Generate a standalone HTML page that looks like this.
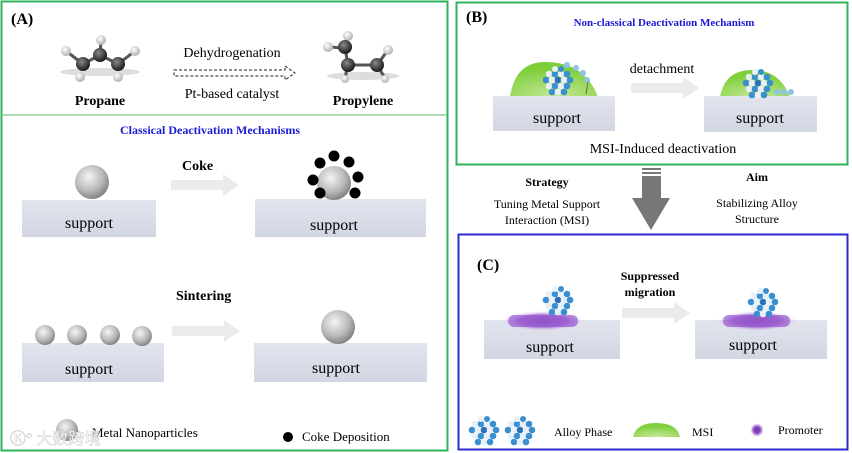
<!DOCTYPE html>
<html><head><meta charset="utf-8"><style>
html,body{margin:0;padding:0;background:#fff}
svg{display:block}
text{font-family:"Liberation Serif",serif}
</style></head><body>
<svg width="852" height="453" viewBox="0 0 852 453" xmlns="http://www.w3.org/2000/svg">
<defs>
<radialGradient id="sph" cx="0.4" cy="0.35" r="0.7">
<stop offset="0" stop-color="#f4f4f4"/><stop offset="0.6" stop-color="#b8b8b8"/><stop offset="1" stop-color="#7a7a7a"/></radialGradient>
<radialGradient id="cat" cx="0.4" cy="0.35" r="0.7"><stop offset="0" stop-color="#888"/><stop offset="1" stop-color="#111"/></radialGradient>
<radialGradient id="hat" cx="0.4" cy="0.35" r="0.7"><stop offset="0" stop-color="#fff"/><stop offset="1" stop-color="#aaa"/></radialGradient>
<linearGradient id="sup" x1="0" y1="0" x2="0" y2="1"><stop offset="0" stop-color="#e2e5ee"/><stop offset="1" stop-color="#d2d6e2"/></linearGradient>
<radialGradient id="msi" cx="0.5" cy="1" r="0.8"><stop offset="0" stop-color="#c8e89a"/><stop offset="1" stop-color="#7fcf3c"/></radialGradient>
<radialGradient id="pur" cx="0.5" cy="0.5" r="0.5"><stop offset="0" stop-color="#7a3cb0"/><stop offset="0.6" stop-color="#a46cd6"/><stop offset="1" stop-color="#e6d6f4" stop-opacity="0"/></radialGradient>
<g id="arr"><path d="M0,6 H52 V0 L68,11 L52,22 V16 H0 Z" fill="#ebebeb"/></g>
<g id="clu">
<circle cx="-9" cy="-8" r="3.3" fill="#e8f0f6"/><circle cx="-3" cy="-8" r="3.3" fill="#3a8fd0"/><circle cx="3" cy="-8" r="3.3" fill="#e8f0f6"/><circle cx="9" cy="-8" r="3.3" fill="#3a8fd0"/>
<circle cx="-12" cy="-2" r="3.3" fill="#3a8fd0"/><circle cx="-6" cy="-2" r="3.3" fill="#e8f0f6"/><circle cx="0" cy="-2" r="3.3" fill="#2a6fb8"/><circle cx="6" cy="-2" r="3.3" fill="#e8f0f6"/><circle cx="12" cy="-2" r="3.3" fill="#3a8fd0"/>
<circle cx="-9" cy="4" r="3.3" fill="#e8f0f6"/><circle cx="-3" cy="4" r="3.3" fill="#3a8fd0"/><circle cx="3" cy="4" r="3.3" fill="#e8f0f6"/><circle cx="9" cy="4" r="3.3" fill="#3a8fd0"/>
<circle cx="-6" cy="10" r="3.3" fill="#3a8fd0"/><circle cx="0" cy="10" r="3.3" fill="#e8f0f6"/><circle cx="6" cy="10" r="3.3" fill="#3a8fd0"/>
<circle cx="-3" cy="-13" r="3" fill="#e8f0f6"/><circle cx="3" cy="-13" r="3" fill="#3a8fd0"/>
</g>
</defs>

<!-- Panel A -->
<rect x="1.5" y="1.5" width="446" height="449" fill="none" stroke="#2fb35a" stroke-width="2"/>
<line x1="2" y1="115" x2="447" y2="115" stroke="#8fd19a" stroke-width="1.5"/>
<text x="11" y="24" font-size="16" font-weight="bold">(A)</text>
<!-- propane -->
<ellipse cx="100" cy="72" rx="40" ry="4" fill="#ddd"/>
<line x1="66" y1="51" x2="83" y2="64" stroke="#555" stroke-width="3"/><line x1="83" y1="64" x2="100" y2="55" stroke="#555" stroke-width="3"/><line x1="100" y1="55" x2="118" y2="64" stroke="#555" stroke-width="3"/><line x1="118" y1="64" x2="135" y2="51" stroke="#555" stroke-width="3"/><line x1="100" y1="55" x2="101" y2="40" stroke="#555" stroke-width="3"/>
<circle cx="66" cy="51" r="5" fill="url(#hat)"/><circle cx="101" cy="40" r="5" fill="url(#hat)"/><circle cx="135" cy="51" r="5" fill="url(#hat)"/><circle cx="80" cy="77" r="5" fill="url(#hat)"/><circle cx="118" cy="77" r="5" fill="url(#hat)"/>
<circle cx="83" cy="64" r="7" fill="url(#cat)"/><circle cx="100" cy="55" r="7" fill="url(#cat)"/><circle cx="118" cy="64" r="7" fill="url(#cat)"/>
<text x="100" y="105" font-size="14" font-weight="bold" text-anchor="middle">Propane</text>
<text x="232" y="57" font-size="14" text-anchor="middle">Dehydrogenation</text>
<path d="M174,70 H285 V66 L295,73 L285,80 V76 H174 Z" fill="none" stroke="#222" stroke-width="1" stroke-dasharray="3,2"/>
<text x="232" y="98" font-size="14" text-anchor="middle">Pt-based catalyst</text>
<!-- propylene -->
<ellipse cx="363" cy="76" rx="36" ry="4" fill="#ddd"/>
<line x1="345" y1="48" x2="348" y2="65" stroke="#555" stroke-width="3"/><line x1="348" y1="65" x2="377" y2="65" stroke="#555" stroke-width="3"/><line x1="348" y1="65" x2="345" y2="78" stroke="#555" stroke-width="3"/><line x1="377" y1="65" x2="385" y2="78" stroke="#555" stroke-width="3"/><line x1="377" y1="65" x2="388" y2="50" stroke="#555" stroke-width="3"/><line x1="345" y1="48" x2="328" y2="47" stroke="#555" stroke-width="3"/>
<circle cx="348" cy="36" r="5" fill="url(#hat)"/><circle cx="328" cy="47" r="5" fill="url(#hat)"/><circle cx="388" cy="50" r="5" fill="url(#hat)"/><circle cx="345" cy="79" r="4" fill="url(#hat)"/><circle cx="385" cy="79" r="4" fill="url(#hat)"/>
<circle cx="345" cy="47" r="7" fill="url(#cat)"/><circle cx="348" cy="65" r="7" fill="url(#cat)"/><circle cx="377" cy="65" r="7" fill="url(#cat)"/>
<text x="363" y="105" font-size="14" font-weight="bold" text-anchor="middle">Propylene</text>
<text x="210" y="134" font-size="12" font-weight="bold" fill="#1a1ad8" text-anchor="middle">Classical Deactivation Mechanisms</text>
<!-- coke row -->
<rect x="22" y="200" width="134" height="37" fill="url(#sup)"/>
<text x="89" y="228" font-size="16" text-anchor="middle">support</text>
<circle cx="92" cy="182" r="17" fill="url(#sph)"/>
<text x="182" y="170" font-size="14" font-weight="bold">Coke</text>
<use href="#arr" x="171" y="174"/>
<rect x="255" y="199" width="171" height="38" fill="url(#sup)"/>
<text x="334" y="230" font-size="16" text-anchor="middle">support</text>
<circle cx="334" cy="183" r="17" fill="url(#sph)"/>
<g fill="#000"><circle cx="320" cy="163" r="5.5"/><circle cx="334" cy="156" r="5.5"/><circle cx="349" cy="162" r="5.5"/><circle cx="313" cy="180" r="5.5"/><circle cx="358" cy="177" r="5.5"/><circle cx="320" cy="193" r="5.5"/><circle cx="355" cy="193" r="5.5"/></g>
<!-- sintering row -->
<text x="176" y="300" font-size="14" font-weight="bold">Sintering</text>
<rect x="22" y="343" width="142" height="39" fill="url(#sup)"/>
<text x="89" y="374" font-size="16" text-anchor="middle">support</text>
<circle cx="45" cy="335" r="10" fill="url(#sph)"/><circle cx="77" cy="335" r="10" fill="url(#sph)"/><circle cx="110" cy="335" r="10" fill="url(#sph)"/><circle cx="142" cy="336" r="10" fill="url(#sph)"/>
<use href="#arr" x="172" y="320"/>
<rect x="254" y="343" width="173" height="39" fill="url(#sup)"/>
<text x="336" y="373" font-size="16" text-anchor="middle">support</text>
<circle cx="338" cy="327" r="17" fill="url(#sph)"/>
<!-- legend A -->
<circle cx="67" cy="430" r="11" fill="url(#sph)"/>
<text x="92" y="437" font-size="13">Metal Nanoparticles</text>
<text x="10" y="444" font-size="16" fill="#fff" stroke="#ccc" stroke-width="0.5" font-family="Noto Sans CJK SC,sans-serif">Ⓚ° 大数跨境</text>
<circle cx="288" cy="437" r="5" fill="#000"/>
<text x="302" y="441" font-size="13">Coke Deposition</text>

<!-- Panel B -->
<rect x="456.5" y="2.5" width="391" height="162" fill="none" stroke="#2fb35a" stroke-width="2"/>
<text x="466" y="22" font-size="16" font-weight="bold">(B)</text>
<text x="664" y="26" font-size="11" font-weight="bold" fill="#1a1ad8" text-anchor="middle">Non-classical Deactivation Mechanism</text>
<path d="M510,97 Q515,62 545,62 Q585,62 598,97 Z" fill="url(#msi)"/>
<rect x="493" y="96" width="122" height="35" fill="url(#sup)"/>
<text x="557" y="123" font-size="16" text-anchor="middle">support</text>
<use href="#clu" x="558" y="82"/>
<circle cx="567" cy="65" r="3" fill="#8ec3ea"/><circle cx="576" cy="68" r="3" fill="#8ec3ea"/><circle cx="583" cy="73" r="3" fill="#8ec3ea"/><circle cx="587" cy="80" r="3" fill="#8ec3ea"/>
<path d="M588,82 L586,94" stroke="#555" stroke-width="0.8"/>
<text x="662" y="73" font-size="14" text-anchor="middle">detachment</text>
<use href="#arr" x="631" y="77"/>
<path d="M720,97 Q725,70 752,70 Q780,70 790,97 Z" fill="url(#msi)"/>
<rect x="704" y="96" width="113" height="36" fill="url(#sup)"/>
<text x="760" y="123" font-size="16" text-anchor="middle">support</text>
<use href="#clu" x="758" y="85"/>
<circle cx="777" cy="92" r="3" fill="#8ec3ea"/><circle cx="784" cy="92" r="3" fill="#8ec3ea"/><circle cx="791" cy="92" r="3" fill="#8ec3ea"/>
<text x="663" y="153" font-size="14" text-anchor="middle">MSI-Induced deactivation</text>

<!-- middle strategy -->
<rect x="642" y="168" width="19" height="2" fill="#777"/><rect x="642" y="172" width="19" height="2" fill="#777"/>
<path d="M642,176 H661 V198 H670 L651,230 L632,198 H642 Z" fill="#777"/>
<text x="547" y="186" font-size="12" font-weight="bold" text-anchor="middle">Strategy</text>
<text x="547" y="208" font-size="12" text-anchor="middle">Tuning Metal Support</text>
<text x="547" y="224" font-size="12" text-anchor="middle">Interaction (MSI)</text>
<text x="757" y="181" font-size="12" font-weight="bold" text-anchor="middle">Aim</text>
<text x="757" y="207" font-size="12" text-anchor="middle">Stabilizing Alloy</text>
<text x="757" y="223" font-size="12" text-anchor="middle">Structure</text>

<!-- Panel C -->
<rect x="458.5" y="234.5" width="389" height="215" fill="none" stroke="#2a2ad0" stroke-width="2"/>
<text x="477" y="270" font-size="16" font-weight="bold">(C)</text>
<text x="650" y="280" font-size="12" font-weight="bold" text-anchor="middle">Suppressed</text>
<text x="650" y="296" font-size="12" font-weight="bold" text-anchor="middle">migration</text>
<rect x="484" y="320" width="136" height="39" fill="url(#sup)"/>
<text x="550" y="352" font-size="16" text-anchor="middle">support</text>
<ellipse cx="543" cy="321" rx="40" ry="10" fill="url(#pur)"/>
<rect x="508" y="315" width="70" height="12" rx="6" fill="#9a5cd0" opacity="0.7"/>
<use href="#clu" x="558" y="302"/>
<use href="#arr" x="622" y="302"/>
<rect x="695" y="320" width="132" height="39" fill="url(#sup)"/>
<text x="753" y="350" font-size="16" text-anchor="middle">support</text>
<ellipse cx="757" cy="321" rx="40" ry="10" fill="url(#pur)"/>
<rect x="723" y="315" width="67" height="12" rx="6" fill="#9a5cd0" opacity="0.7"/>
<use href="#clu" x="763" y="304"/>
<!-- legend C -->
<use href="#clu" x="484" y="432"/>
<use href="#clu" x="520" y="432"/>
<text x="554" y="436" font-size="12">Alloy Phase</text>
<path d="M633,437 Q636,423 656,423 Q677,423 680,437 Z" fill="url(#msi)"/>
<text x="692" y="436" font-size="12">MSI</text>
<circle cx="757" cy="430" r="7" fill="url(#pur)"/><circle cx="757" cy="430" r="3" fill="#7a3cb0"/>
<text x="778" y="434" font-size="12">Promoter</text>
</svg>
</body></html>
